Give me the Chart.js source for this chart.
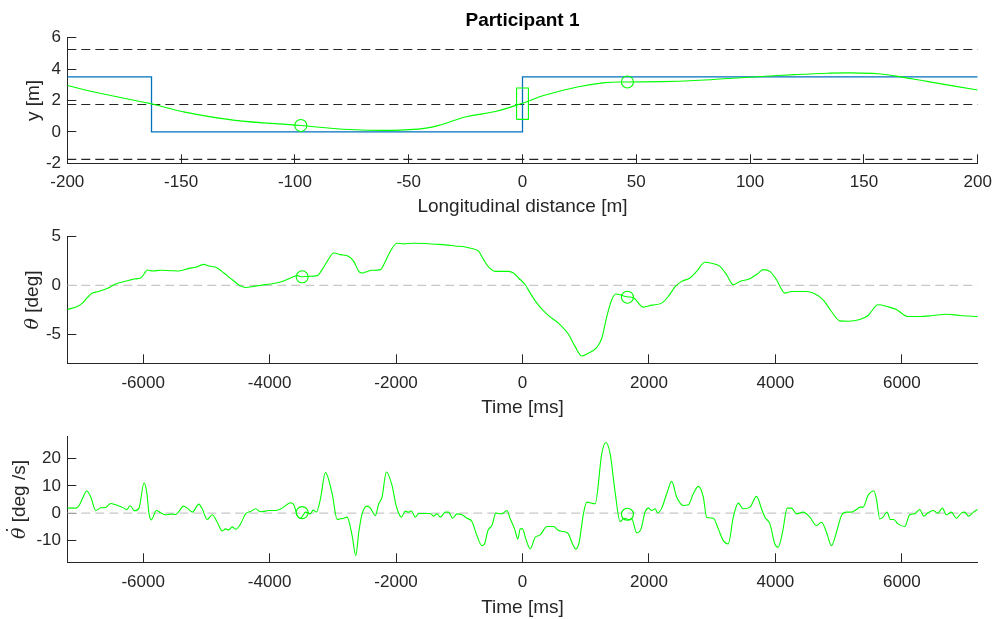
<!DOCTYPE html>
<html>
<head>
<meta charset="utf-8">
<script src="https://cdn.jsdelivr.net/npm/chart.js@4.4.1/dist/chart.umd.min.js"></script>
<style>
  html, body { margin: 0; padding: 0; background: #fff; }
  #wrap { position: relative; width: 995px; height: 619px; }
  .panel { position: absolute; left: 0; width: 995px; }
</style>
</head>
<body>
<div id="wrap">
  <div class="panel" style="top:0;height:218px"><canvas id="c1"></canvas></div>
  <div class="panel" style="top:218px;height:200px"><canvas id="c2"></canvas></div>
  <div class="panel" style="top:418px;height:201px"><canvas id="c3"></canvas></div>
</div>
<script>
// --- top panel: lateral position vs longitudinal distance ---
const distTicks = [-200, -150, -100, -50, 0, 50, 100, 150, 200];
const latTicks = [-2, 0, 2, 4, 6];
const laneBounds = [-1.75, 1.75, 5.25];
const pathX = [-200, -163, -163, 0, 0, 200];
const pathY = [3.5, 3.5, 0, 0, 3.5, 3.5];
const trajX = [-200, -185.7, -163.4, -149.1, -127.1, -97.4, -75.9, -53.9, -39.3, -24.7, -12, 0, 10, 24.6, 36.3, 46.1, 61.2, 75.8, 90.5, 105.1, 119.7, 134.4, 144.6, 156.3, 163.6, 178.3, 200];
const trajY = [2.95, 2.46, 1.80, 1.28, 0.75, 0.41, 0.15, 0.11, 0.32, 0.96, 1.30, 1.83, 2.35, 2.88, 3.14, 3.18, 3.20, 3.27, 3.40, 3.53, 3.65, 3.74, 3.76, 3.70, 3.57, 3.20, 2.67];
const carX = [-2.6, 2.6, 2.6, -2.6, -2.6];
const carY = [0.8, 0.8, 2.8, 2.8, 0.8];
const markDist = [-97.4, 46.1];
const markLat = [0.41, 3.18];

// --- middle panel: heading angle vs time ---
const timeTicks = [-6000, -4000, -2000, 0, 2000, 4000, 6000];
const thetaTicks = [-5, 0, 5];
const thetaTime = [
  -7200, -7040, -6961, -6882, -6803, -6724, -6592, -6513, -6434, -6329,
  -6223, -6145, -6039, -5986, -5934, -5855, -5723, -5565, -5434, -5276,
  -5170, -5049, -4960, -4828, -4723, -4591, -4459, -4380, -4249, -4117,
  -3985, -3827, -3669, -3564, -3485, -3380, -3248, -3169, -3090, -2985,
  -2880, -2748, -2669, -2590, -2537, -2485, -2380, -2248, -2169, -2090,
  -1985, -1879, -1721, -1537, -1379, -1221, -1063, -905, -800, -695,
  -616, -537, -431, -221, -142, -63, 43, 122, 227, 385,
  569, 727, 833, 938, 1017, 1175, 1254, 1333, 1412, 1475,
  1543, 1649, 1754, 1912, 2044, 2202, 2307, 2412, 2517, 2649,
  2754, 2886, 2991, 3123, 3228, 3334, 3439, 3597, 3713, 3807,
  3913, 4018, 4150, 4255, 4492, 4597, 4755, 4887, 5019, 5150,
  5335, 5466, 5624, 5782, 5914, 6098, 6283, 6493, 6704, 6914,
  7200
];
const thetaVal = [
  -2.48, -2.16, -1.82, -1.24, -0.79, -0.65, -0.38, -0.14, 0.14, 0.34,
  0.52, 0.65, 0.76, 1.17, 1.58, 1.48, 1.55, 1.51, 1.48, 1.75,
  1.86, 2.16, 1.99, 1.79, 1.27, 0.58, -0.07, -0.21, -0.10, 0.03,
  0.14, 0.34, 0.76, 1.00, 0.89, 0.93, 1.00, 1.62, 2.47, 3.33,
  3.16, 2.96, 2.47, 1.44, 1.27, 1.37, 1.55, 1.62, 2.47, 3.51,
  4.33, 4.26, 4.33, 4.30, 4.23, 4.16, 4.05, 3.95, 3.78, 3.51,
  2.65, 1.89, 1.44, 1.44, 1.27, 0.76, 0.07, -0.79, -1.82, -2.96,
  -3.88, -5.02, -6.29, -7.25, -7.04, -6.36, -5.43, -3.20, -1.48, -0.89,
  -0.96, -1.17, -1.27, -2.23, -2.03, -1.82, -1.13, -0.15, 0.41, 0.76,
  1.44, 2.37, 2.27, 1.96, 1.10, 0.07, 0.41, 0.69, 1.17, 1.62,
  1.44, 0.58, -0.79, -0.62, -0.62, -0.79, -1.48, -2.68, -3.64, -3.68,
  -3.51, -3.09, -1.99, -2.20, -2.47, -3.20, -3.20, -3.09, -2.96, -3.09,
  -3.20
];
const markTime = [-3485, 1660];
const markTheta = [0.88, -1.21];

// --- bottom panel: heading rate vs time ---
const rateTicks = [-10, 0, 10, 20];
const rateTime = [
  -7200, -7066, -7013, -6961, -6892, -6829, -6750, -6671, -6592, -6513,
  -6434, -6303, -6260, -6208, -6134, -6066, -5986, -5944, -5907, -5871,
  -5792, -5723, -5644, -5565, -5486, -5434, -5365, -5302, -5223, -5118,
  -5066, -4986, -4907, -4828, -4749, -4696, -4644, -4591, -4538, -4459,
  -4380, -4301, -4222, -4143, -4064, -4012, -3906, -3801, -3669, -3617,
  -3564, -3511, -3432, -3354, -3312, -3259, -3196, -3117, -3011, -2932,
  -2880, -2827, -2775, -2695, -2637, -2590, -2537, -2458, -2406, -2327,
  -2274, -2222, -2153, -2064, -2000, -1958, -1916, -1853, -1800, -1758,
  -1695, -1642, -1537, -1458, -1405, -1353, -1300, -1221, -1168, -1105,
  -1037, -958, -879, -800, -721, -642, -600, -547, -484, -421,
  -326, -247, -194, -126, -73, -36, 0, 53, 122, 201,
  280, 385, 490, 569, 648, 727, 780, 843, 896, 964,
  1017, 1149, 1254, 1317, 1386, 1465, 1543, 1612, 1675, 1728,
  1807, 1875, 1938, 1991, 2044, 2097, 2138, 2202, 2281, 2360,
  2438, 2544, 2623, 2702, 2781, 2860, 2912, 3018, 3097, 3176,
  3255, 3334, 3413, 3492, 3597, 3702, 3781, 3834, 3913, 3992,
  4044, 4113, 4187, 4255, 4334, 4439, 4545, 4650, 4729, 4808,
  4887, 4966, 5045, 5124, 5203, 5282, 5345, 5387, 5466, 5556,
  5598, 5651, 5703, 5766, 5819, 5872, 5940, 6046, 6125, 6204,
  6283, 6346, 6414, 6493, 6572, 6641, 6704, 6783, 6862, 6941,
  6993, 7056, 7135, 7200
];
const rateVal = [
  1.84, 1.84, 2.82, 5.27, 8.09, 5.88, 0.98, 1.96, 2.08, 3.55,
  3.06, 1.84, 1.23, 2.70, 0.86, 1.84, 11.03, 7.72, -0.25, -2.45,
  0.98, 0.12, -0.61, -0.37, -0.49, 0.61, 2.57, 1.84, 0.37, 3.31,
  1.59, -2.33, -0.61, -3.31, -6.50, -5.76, -6.13, -5.02, -5.88, -3.92,
  -0.25, 0.61, 1.59, 0.49, 0.74, 0.98, 0.98, 1.84, 3.80, 3.06,
  -0.86, -1.84, 0.37, -0.25, 1.10, 0.37, 5.27, 14.83, 7.11, -2.33,
  -2.08, -1.84, -1.47, -8.21, -15.56, -6.99, -0.25, 2.57, 1.84, -0.86,
  3.43, 5.88, 15.07, 10.17, 2.82, 0.00, -1.47, 0.74, 0.37, 0.86,
  -1.47, -0.12, -0.12, -0.12, -1.10, -0.25, -1.47, 0.37, 0.37, -1.84,
  -0.25, -0.61, -1.84, -3.06, -8.21, -11.89, -11.27, -6.37, -4.53, 0.00,
  -0.25, 0.98, -2.08, -5.76, -9.44, -5.76, -5.76, -9.44, -13.11, -8.82,
  -7.97, -4.90, -4.90, -6.37, -6.74, -7.60, -10.66, -13.11, -10.66, -0.25,
  4.04, 3.43, 21.81, 25.86, 21.81, 7.72, -3.06, -1.84, -2.33, -2.08,
  -7.23, -5.76, 0.37, 1.84, 0.98, 1.59, 0.12, 1.84, 7.11, 11.64,
  5.88, 2.82, 3.06, 7.11, 9.80, 5.88, -1.47, -1.84, -5.76, -10.05,
  -11.27, -1.47, 3.68, 1.59, 2.21, 6.13, 1.59, -1.47, -3.92, -11.27,
  -12.50, -6.99, 1.84, 1.84, -0.25, 0.37, -1.47, -4.53, -3.31, -6.99,
  -11.89, -6.99, -0.86, 0.37, 0.37, 1.35, 2.21, 2.21, 6.50, 8.09,
  5.27, -2.08, -1.47, 0.37, -2.33, -2.33, -3.92, -4.90, -0.61, -0.25,
  1.35, -1.10, 0.12, 0.98, 0.00, 1.84, -0.61, 0.37, -1.84, 0.00,
  0.37, -1.10, 0.37, 1.35
];
const markRate = [0.2, -0.4];

const FONT = "'Liberation Sans', Arial, Helvetica, sans-serif";
const INK = '#262626';
const GREEN = '#00ff00';
const BLUE = '#0072bd';

function pts(xs, ys) {
  return xs.map((x, i) => ({ x: x, y: ys[i] }));
}

function axis(o) {
  return {
    type: 'linear',
    min: o.min,
    max: o.max,
    border: { display: true, color: INK, width: 1 },
    // negative tick length -> MATLAB style ticks pointing into the plot
    grid: { drawOnChartArea: false, drawTicks: true, tickLength: -9, color: INK, lineWidth: 1 },
    ticks: {
      color: INK,
      font: { family: FONT, size: 17 },
      padding: o.pad,
      maxRotation: 0,
      autoSkip: false,
      callback: v => String(v)
    },
    title: { display: !!o.title, text: o.title || '', color: INK, font: { family: FONT, size: 19 }, padding: o.titlePad },
    afterBuildTicks: s => { s.ticks = o.ticks.map(v => ({ value: v })); },
    afterFit: s => {
      if (o.isY) s.width = o.size; else s.height = o.size;
      // keep the plot box where layout.padding puts it
      s.paddingLeft = s.paddingRight = s.paddingTop = s.paddingBottom = 0;
    }
  };
}

function line(data, color, extra) {
  return Object.assign({
    data: data,
    borderColor: color,
    borderWidth: 1.1,
    pointRadius: 0,
    fill: false,
    tension: 0
  }, extra || {});
}

function markers(data) {
  return {
    data: data,
    showLine: false,
    pointRadius: 6,
    pointStyle: 'circle',
    pointBorderColor: GREEN,
    pointBackgroundColor: 'rgba(0,0,0,0)',
    pointBorderWidth: 1.1,
    order: 0
  };
}

// y label made of mixed fonts (italic theta + plain unit)
const yLabel = {
  id: 'yLabel',
  afterDraw(chart, args, opts) {
    if (!opts.parts) return;
    const ctx = chart.ctx;
    const area = chart.chartArea;
    ctx.save();
    ctx.translate(opts.x, (area.top + area.bottom) / 2);
    ctx.rotate(-Math.PI / 2);
    ctx.textBaseline = 'middle';
    ctx.textAlign = 'left';
    ctx.fillStyle = INK;
    let total = 0;
    opts.parts.forEach(p => { ctx.font = p.font; p.w = ctx.measureText(p.text).width; total += p.w; });
    let cx = -total / 2;
    opts.parts.forEach(p => {
      ctx.font = p.font;
      ctx.fillText(p.text, cx, 0);
      if (p.dot) {
        // derivative dot above the symbol
        ctx.textAlign = 'center';
        ctx.fillText('\u02D9', cx + p.w / 2 + 1.5, -5);
        ctx.textAlign = 'left';
      }
      cx += p.w;
    });
    ctx.restore();
  }
};

const common = {
  responsive: true,
  maintainAspectRatio: false,
  animation: false,
  events: []
};

// top
new Chart(document.getElementById('c1'), {
  type: 'line',
  data: {
    datasets: [
      line(pts(trajX, trajY), GREEN, { tension: 0.4, order: 0 }),
      markers(pts(markDist, markLat)),
      line(pts(carX, carY), GREEN, { order: 0 }),
      line(pts(pathX, pathY), BLUE, { borderWidth: 1.3, order: 1 })
    ].concat(laneBounds.map(b => line(pts([-200, 200], [b, b]), INK, { borderDash: [9, 5], borderWidth: 1.1, order: 2 })))
  },
  options: Object.assign({}, common, {
    layout: { padding: { left: 0, right: 17.3, top: 0, bottom: 0 } },
    plugins: {
      legend: { display: false },
      tooltip: { enabled: false },
      title: {
        display: true,
        text: 'Participant 1',
        fullSize: false,
        color: '#000',
        font: { family: FONT, size: 19, weight: 'bold' },
        padding: { top: 9.6, bottom: 5.3 }
      }
    },
    scales: {
      x: axis({ min: -200, max: 200, ticks: distTicks, title: 'Longitudinal distance [m]', pad: 18, titlePad: { top: 0, bottom: -0.3 }, size: 54.7 }),
      y: axis({ min: -2, max: 6, ticks: latTicks, title: 'y [m]', pad: 15.3, titlePad: { top: 22.6, bottom: 0 }, size: 67.3, isY: true })
    }
  })
});

// middle
new Chart(document.getElementById('c2'), {
  type: 'line',
  plugins: [yLabel],
  data: {
    datasets: [
      line(pts(thetaTime, thetaVal), GREEN, { cubicInterpolationMode: 'monotone', order: 0 }),
      markers(pts(markTime, markTheta)),
      line(pts([-7200, 7200], [0, 0]), '#c8c8c8', { borderDash: [9, 5], borderWidth: 1.2, order: 2 })
    ]
  },
  options: Object.assign({}, common, {
    layout: { padding: { left: 0, right: 17.3, top: 18.7, bottom: 0 } },
    plugins: {
      legend: { display: false },
      tooltip: { enabled: false },
      yLabel: { x: 33, parts: [
        { text: 'θ', font: "italic 19px 'DejaVu Serif', serif" },
        { text: ' [deg]', font: "19px " + FONT }
      ] }
    },
    scales: {
      x: axis({ min: -7200, max: 7200, ticks: timeTicks, title: 'Time [ms]', pad: 18.5, titlePad: { top: 0, bottom: -0.8 }, size: 54.7 }),
      y: axis({ min: -8, max: 5, ticks: thetaTicks, pad: 15.3, size: 67.3, isY: true })
    }
  })
});

// bottom
new Chart(document.getElementById('c3'), {
  type: 'line',
  plugins: [yLabel],
  data: {
    datasets: [
      line(pts(rateTime, rateVal), GREEN, { cubicInterpolationMode: 'monotone', order: 0 }),
      markers(pts(markTime, markRate)),
      line(pts([-7200, 7200], [0, 0]), '#c8c8c8', { borderDash: [9, 5], borderWidth: 1.2, order: 2 })
    ]
  },
  options: Object.assign({}, common, {
    layout: { padding: { left: 0, right: 17.3, top: 18.7, bottom: 0 } },
    plugins: {
      legend: { display: false },
      tooltip: { enabled: false },
      yLabel: { x: 20, parts: [
        { text: 'θ', font: "italic 19px 'DejaVu Serif', serif", dot: true },
        { text: ' [deg /s]', font: "19px " + FONT }
      ] }
    },
    scales: {
      x: axis({ min: -7200, max: 7200, ticks: timeTicks, title: 'Time [ms]', pad: 18.5, titlePad: { top: 0, bottom: -0.3 }, size: 56.7 }),
      y: axis({ min: -18, max: 28, ticks: rateTicks, pad: 15.3, size: 67.3, isY: true })
    }
  })
});
</script>
</body>
</html>
